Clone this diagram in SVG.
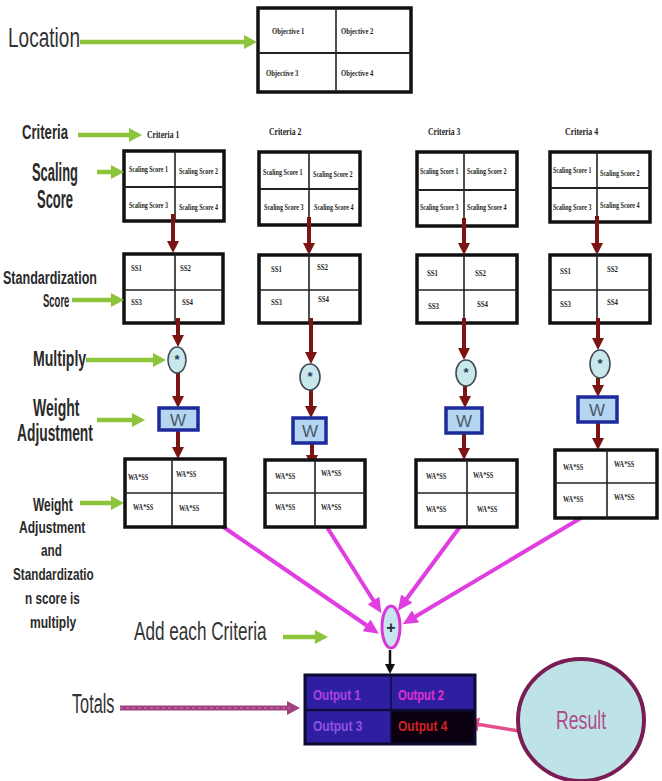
<svg xmlns="http://www.w3.org/2000/svg" width="662" height="781" viewBox="0 0 662 781">
<style>
.tb{fill:#fff;stroke:#111;stroke-width:3.5}
.tl{stroke:#222;stroke-width:1.6;fill:none}
.th{stroke:#222;stroke-width:2.2;fill:none}
.tt{font-family:"Liberation Serif",serif;font-weight:bold;font-size:9px;fill:#1e1e1e}
.ct{font-family:"Liberation Serif",serif;font-weight:bold;font-size:11px;fill:#1e1e1e}
.lb{font-family:"Liberation Sans",sans-serif;font-weight:bold;fill:#2a2a2a}
.lr{font-family:"Liberation Sans",sans-serif;fill:#333}
.g{stroke:#8cc43c;stroke-width:4.5;fill:none;marker-end:url(#ag)}
.r{stroke:#7c1414;stroke-width:4;fill:none;marker-end:url(#ar)}
.m{stroke:#e03ee0;stroke-width:4;fill:none;marker-end:url(#am)}
.mul{fill:#c8e8ec;stroke:#404a58;stroke-width:1.6}
.ast{font-family:"Liberation Sans",sans-serif;font-weight:bold;font-size:13px;fill:#2a3a5a}
.wb{fill:#b4d6f0;stroke:#1c2a9c;stroke-width:3.5}
.wt{font-family:"Liberation Sans",sans-serif;font-size:17px;fill:#4a5868}
.ot{font-family:"Liberation Sans",sans-serif;font-weight:bold;font-size:14px}
</style>
<defs>
<marker id="ag" markerUnits="userSpaceOnUse" markerWidth="14" markerHeight="14" refX="3" refY="7" orient="auto"><path d="M0,0 L13,7 L0,14 z" fill="#8cc43c"/></marker>
<marker id="ar" markerUnits="userSpaceOnUse" markerWidth="12" markerHeight="12" refX="3" refY="6" orient="auto"><path d="M0,0 L12,6 L0,12 z" fill="#7c1414"/></marker>
<marker id="am" markerUnits="userSpaceOnUse" markerWidth="15" markerHeight="14" refX="3" refY="7" orient="auto"><path d="M0,0 L15,7 L0,14 z" fill="#e03ee0"/></marker>
<marker id="ak" markerUnits="userSpaceOnUse" markerWidth="10" markerHeight="10" refX="3" refY="5" orient="auto"><path d="M0,0 L10,5 L0,10 z" fill="#111"/></marker>
<marker id="at" markerUnits="userSpaceOnUse" markerWidth="14" markerHeight="14" refX="3" refY="7" orient="auto"><path d="M0,0 L13,7 L0,14 z" fill="#a0407f"/></marker>
<marker id="ap" markerUnits="userSpaceOnUse" markerWidth="14" markerHeight="14" refX="3" refY="7" orient="auto"><path d="M0,0 L13,7 L0,14 z" fill="#e0508a"/></marker>
</defs>
<rect width="662" height="781" fill="#fff"/>

<!-- Labels -->
<g id="labels">
<text class="lr" font-size="28" transform="translate(8,47) scale(0.68,1)">Location</text>
<text class="lb" font-size="21" transform="translate(22,139) scale(0.626,1)">Criteria</text>
<text class="lb" font-size="25" transform="translate(32,181) scale(0.517,1)">Scaling</text>
<text class="lb" font-size="25" transform="translate(37,208) scale(0.518,1)">Score</text>
<text class="lb" font-size="19" transform="translate(3,284) scale(0.66,1)">Standardization</text>
<text class="lb" font-size="19" transform="translate(43,307) scale(0.5,1)">Score</text>
<text class="lb" font-size="22" transform="translate(33,366) scale(0.64,1)">Multiply</text>
<text class="lb" font-size="23" transform="translate(33,416) scale(0.61,1)">Weight</text>
<text class="lb" font-size="23" transform="translate(17,441) scale(0.6,1)">Adjustment</text>
<text class="lb" font-size="19" transform="translate(33,511) scale(0.63,1)">Weight</text>
<text class="lb" font-size="17" transform="translate(19,533) scale(0.71,1)">Adjustment</text>
<text class="lb" font-size="17" transform="translate(41,556) scale(0.69,1)">and</text>
<text class="lb" font-size="17" transform="translate(13,580) scale(0.69,1)">Standardizatio</text>
<text class="lb" font-size="17" transform="translate(25,604) scale(0.69,1)">n score is</text>
<text class="lb" font-size="17" transform="translate(30,628) scale(0.71,1)">multiply</text>
<text class="lr" font-size="26" transform="translate(134,640) scale(0.66,1)">Add each Criteria</text>
<text class="lr" font-size="28" transform="translate(72,713) scale(0.58,1)">Totals</text>
</g>

<!-- Objective table -->
<g id="objectives">
<rect class="tb" x="258" y="8" width="153" height="84"/>
<line class="th" x1="258" y1="53" x2="411" y2="53"/>
<line class="tl" x1="336" y1="8" x2="336" y2="92"/>
<text class="tt" font-size="10" transform="translate(272,34) scale(0.74,1)">Objective 1</text>
<text class="tt" font-size="10" transform="translate(341,34) scale(0.74,1)">Objective 2</text>
<text class="tt" font-size="10" transform="translate(266,76) scale(0.74,1)">Objective 3</text>
<text class="tt" font-size="10" transform="translate(341,76) scale(0.74,1)">Objective 4</text>
</g>

<!-- Criteria titles -->
<g id="criteria-titles">
<text class="ct" transform="translate(147,138) scale(0.7,1)">Criteria 1</text>
<text class="ct" transform="translate(269,135) scale(0.7,1)">Criteria 2</text>
<text class="ct" transform="translate(428,135) scale(0.7,1)">Criteria 3</text>
<text class="ct" transform="translate(565,135) scale(0.72,1)">Criteria 4</text>
</g>

<!-- Scaling tables -->
<g id="scaling1">
<rect class="tb" x="124" y="151" width="100" height="70"/>
<line class="th" x1="124" y1="187" x2="224" y2="187"/>
<line class="tl" x1="175" y1="151" x2="175" y2="221"/>
<text class="tt" transform="translate(129,172) scale(0.67,1)">Scaling Score 1</text>
<text class="tt" transform="translate(179,174) scale(0.67,1)">Scaling Score 2</text>
<text class="tt" transform="translate(129,208) scale(0.67,1)">Scaling Score 3</text>
<text class="tt" transform="translate(179,210) scale(0.67,1)">Scaling Score 4</text>
</g>
<g id="scaling2">
<rect class="tb" x="259" y="152" width="101" height="73"/>
<line class="th" x1="259" y1="189" x2="360" y2="189"/>
<line class="tl" x1="309" y1="152" x2="309" y2="225"/>
<text class="tt" transform="translate(263,175) scale(0.68,1)">Scaling Score 1</text>
<text class="tt" transform="translate(313,177) scale(0.68,1)">Scaling Score 2</text>
<text class="tt" transform="translate(264,210) scale(0.68,1)">Scaling Score 3</text>
<text class="tt" transform="translate(314,210) scale(0.68,1)">Scaling Score 4</text>
</g>
<g id="scaling3">
<rect class="tb" x="417" y="152" width="100" height="74"/>
<line class="th" x1="417" y1="190" x2="517" y2="190"/>
<line class="tl" x1="464" y1="152" x2="464" y2="226"/>
<text class="tt" transform="translate(420,174) scale(0.66,1)">Scaling Score 1</text>
<text class="tt" transform="translate(467,174) scale(0.68,1)">Scaling Score 2</text>
<text class="tt" transform="translate(420,210) scale(0.66,1)">Scaling Score 3</text>
<text class="tt" transform="translate(467,210) scale(0.68,1)">Scaling Score 4</text>
</g>
<g id="scaling4">
<rect class="tb" x="550" y="152" width="100" height="70"/>
<line class="th" x1="550" y1="188" x2="650" y2="188"/>
<line class="tl" x1="597" y1="152" x2="597" y2="222"/>
<text class="tt" transform="translate(553,173) scale(0.66,1)">Scaling Score 1</text>
<text class="tt" transform="translate(600,176) scale(0.68,1)">Scaling Score 2</text>
<text class="tt" transform="translate(553,210) scale(0.66,1)">Scaling Score 3</text>
<text class="tt" transform="translate(600,208) scale(0.68,1)">Scaling Score 4</text>
</g>

<!-- Standardization tables -->
<g id="ss1">
<rect class="tb" x="124" y="254" width="99" height="69"/>
<line class="tl" x1="124" y1="290" x2="223" y2="290"/>
<line class="tl" x1="175" y1="254" x2="175" y2="323"/>
<text class="tt" transform="translate(131,271) scale(0.76,1)">SS1</text>
<text class="tt" transform="translate(180,271) scale(0.76,1)">SS2</text>
<text class="tt" transform="translate(131,305) scale(0.76,1)">SS3</text>
<text class="tt" transform="translate(182,305) scale(0.76,1)">SS4</text>
</g>
<g id="ss2">
<rect class="tb" x="259" y="255" width="101" height="68"/>
<line class="tl" x1="259" y1="290" x2="360" y2="290"/>
<line class="tl" x1="309" y1="255" x2="309" y2="323"/>
<text class="tt" transform="translate(271,272) scale(0.76,1)">SS1</text>
<text class="tt" transform="translate(317,270) scale(0.76,1)">SS2</text>
<text class="tt" transform="translate(271,305) scale(0.76,1)">SS3</text>
<text class="tt" transform="translate(318,302) scale(0.76,1)">SS4</text>
</g>
<g id="ss3">
<rect class="tb" x="417" y="255" width="100" height="68"/>
<line class="tl" x1="417" y1="290" x2="517" y2="290"/>
<line class="tl" x1="464" y1="255" x2="464" y2="323"/>
<text class="tt" transform="translate(427,276) scale(0.76,1)">SS1</text>
<text class="tt" transform="translate(475,276) scale(0.76,1)">SS2</text>
<text class="tt" transform="translate(428,309) scale(0.76,1)">SS3</text>
<text class="tt" transform="translate(477,307) scale(0.76,1)">SS4</text>
</g>
<g id="ss4">
<rect class="tb" x="550" y="255" width="100" height="68"/>
<line class="tl" x1="550" y1="290" x2="650" y2="290"/>
<line class="tl" x1="597" y1="255" x2="597" y2="323"/>
<text class="tt" transform="translate(560,274) scale(0.76,1)">SS1</text>
<text class="tt" transform="translate(607,272) scale(0.76,1)">SS2</text>
<text class="tt" transform="translate(560,307) scale(0.76,1)">SS3</text>
<text class="tt" transform="translate(607,305) scale(0.76,1)">SS4</text>
</g>

<!-- Connectors -->
<g id="connectors">
<line class="g" x1="80" y1="42" x2="247" y2="42"/>
<line class="g" x1="78" y1="135" x2="132" y2="135"/>
<line class="g" x1="97" y1="172" x2="114" y2="172"/>
<line class="g" x1="72" y1="300" x2="114" y2="300"/>
<line class="g" x1="86" y1="360" x2="156" y2="360"/>
<line class="g" x1="97" y1="420" x2="135" y2="420"/>
<line class="g" x1="80" y1="503" x2="114" y2="503"/>
<line class="g" x1="283" y1="637" x2="318" y2="637"/>

<line class="r" x1="173" y1="214" x2="173" y2="244"/>
<line class="r" x1="178" y1="318" x2="178" y2="338"/>
<line class="r" x1="178" y1="373" x2="178" y2="399"/>
<line class="r" x1="178" y1="428" x2="178" y2="450"/>

<line class="r" x1="309" y1="217" x2="309" y2="246"/>
<line class="r" x1="311" y1="318" x2="311" y2="355"/>
<line class="r" x1="311" y1="390" x2="311" y2="409"/>
<line class="r" x1="312" y1="443" x2="312" y2="458"/>

<line class="r" x1="464" y1="218" x2="464" y2="246"/>
<line class="r" x1="464" y1="318" x2="464" y2="351"/>
<line class="r" x1="465" y1="386" x2="465" y2="399"/>
<line class="r" x1="464" y1="433" x2="464" y2="451"/>

<line class="r" x1="597" y1="216" x2="597" y2="246"/>
<line class="r" x1="598" y1="318" x2="598" y2="341"/>
<line class="r" x1="598" y1="378" x2="598" y2="388"/>
<line class="r" x1="598" y1="422" x2="598" y2="441"/>

<line class="m" x1="219" y1="524" x2="369" y2="627"/>
<line class="m" x1="325" y1="524" x2="375" y2="603"/>
<line class="m" x1="462" y1="524" x2="405" y2="601"/>
<line class="m" x1="591" y1="512" x2="413" y2="618"/>

<line x1="390" y1="650" x2="390" y2="667" stroke="#111" stroke-width="2.5" marker-end="url(#ak)"/>
<line x1="120" y1="708" x2="290" y2="708" stroke="#a0407f" stroke-width="5" marker-end="url(#at)"/>
<line x1="120" y1="708" x2="290" y2="708" stroke="#d078b8" stroke-width="1" stroke-dasharray="3 3"/>
<line x1="519" y1="731" x2="476" y2="724" stroke="#e0508a" stroke-width="3.5" marker-end="url(#ap)"/>
</g>

<!-- Multiply nodes -->
<g id="mul1"><ellipse class="mul" cx="177" cy="360" rx="9" ry="13"/><text class="ast" x="177" y="364" text-anchor="middle">*</text></g>
<g id="mul2"><ellipse class="mul" cx="310" cy="377" rx="10" ry="13"/><text class="ast" x="310" y="381" text-anchor="middle">*</text></g>
<g id="mul3"><ellipse class="mul" cx="466" cy="373" rx="10" ry="13"/><text class="ast" x="466" y="377" text-anchor="middle">*</text></g>
<g id="mul4"><ellipse class="mul" cx="600" cy="364" rx="10" ry="14"/><text class="ast" x="600" y="368" text-anchor="middle">*</text></g>

<!-- Weight nodes -->
<g id="w1"><rect class="wb" x="159" y="408" width="39" height="22"/><text class="wt" x="178" y="426" text-anchor="middle">W</text></g>
<g id="w2"><rect class="wb" x="293" y="418" width="33" height="25"/><text class="wt" x="310" y="437" text-anchor="middle">W</text></g>
<g id="w3"><rect class="wb" x="446" y="408" width="36" height="25"/><text class="wt" x="464" y="427" text-anchor="middle">W</text></g>
<g id="w4"><rect class="wb" x="578" y="397" width="39" height="25"/><text class="wt" x="597" y="416" text-anchor="middle">W</text></g>

<!-- WA*SS tables -->
<g id="wa1">
<rect class="tb" x="125" y="459" width="100" height="68"/>
<line class="tl" x1="125" y1="493" x2="225" y2="493"/>
<line class="tl" x1="172" y1="459" x2="172" y2="527"/>
<text class="tt" transform="translate(128,480) scale(0.7,1)">WA*SS</text>
<text class="tt" transform="translate(176,477) scale(0.7,1)">WA*SS</text>
<text class="tt" transform="translate(133,510) scale(0.7,1)">WA*SS</text>
<text class="tt" transform="translate(179,511) scale(0.7,1)">WA*SS</text>
</g>
<g id="wa2">
<rect class="tb" x="265" y="460" width="100" height="67"/>
<line class="tl" x1="265" y1="493" x2="365" y2="493"/>
<line class="tl" x1="315" y1="460" x2="315" y2="527"/>
<text class="tt" transform="translate(275,479) scale(0.7,1)">WA*SS</text>
<text class="tt" transform="translate(321,476) scale(0.7,1)">WA*SS</text>
<text class="tt" transform="translate(275,510) scale(0.7,1)">WA*SS</text>
<text class="tt" transform="translate(321,510) scale(0.7,1)">WA*SS</text>
</g>
<g id="wa3">
<rect class="tb" x="416" y="460" width="101" height="67"/>
<line class="tl" x1="416" y1="493" x2="517" y2="493"/>
<line class="tl" x1="467" y1="460" x2="467" y2="527"/>
<text class="tt" transform="translate(426,479) scale(0.7,1)">WA*SS</text>
<text class="tt" transform="translate(473,478) scale(0.7,1)">WA*SS</text>
<text class="tt" transform="translate(426,512) scale(0.7,1)">WA*SS</text>
<text class="tt" transform="translate(477,512) scale(0.7,1)">WA*SS</text>
</g>
<g id="wa4">
<rect class="tb" x="555" y="450" width="102" height="68"/>
<line class="tl" x1="555" y1="483" x2="657" y2="483"/>
<line class="tl" x1="607" y1="450" x2="607" y2="518"/>
<text class="tt" transform="translate(563,470) scale(0.7,1)">WA*SS</text>
<text class="tt" transform="translate(614,467) scale(0.7,1)">WA*SS</text>
<text class="tt" transform="translate(563,502) scale(0.7,1)">WA*SS</text>
<text class="tt" transform="translate(614,500) scale(0.7,1)">WA*SS</text>
</g>

<!-- Sum node -->
<g id="sum">
<ellipse cx="391" cy="627" rx="9" ry="21" fill="#c8e4ee" stroke="#d838d8" stroke-width="3"/>
<text x="391" y="633" text-anchor="middle" font-family="Liberation Sans,sans-serif" font-weight="bold" font-size="16" fill="#2a2a3a">+</text>
</g>

<!-- Output table -->
<g id="outputs">
<rect x="305" y="675" width="170" height="69" fill="#2e1fa0"/>
<rect x="391" y="710" width="84" height="34" fill="#0a0010"/>
<rect x="305" y="675" width="170" height="69" fill="none" stroke="#0c0c30" stroke-width="3"/>
<line x1="305" y1="710" x2="475" y2="710" stroke="#0c0c40" stroke-width="2.5"/>
<line x1="391" y1="675" x2="391" y2="744" stroke="#0c0c40" stroke-width="1.5"/>
<text class="ot" fill="#b040e0" transform="translate(313,700) scale(0.83,1)">Output 1</text>
<text class="ot" fill="#e030d0" transform="translate(398,700) scale(0.8,1)">Output 2</text>
<text class="ot" fill="#9050e0" font-weight="normal" transform="translate(313,731) scale(0.86,1)">Output 3</text>
<text class="ot" fill="#d02020" font-weight="normal" transform="translate(398,731) scale(0.86,1)">Output 4</text>
</g>

<!-- Result -->
<g id="result">
<ellipse cx="581" cy="720" rx="63" ry="61" fill="#bde3e6" stroke="#7b1d55" stroke-width="4"/>
<text text-anchor="middle" font-family="Liberation Sans,sans-serif" font-size="26" fill="#b04c8c" transform="translate(581,729) scale(0.68,1)">Result</text>
</g>
</svg>
